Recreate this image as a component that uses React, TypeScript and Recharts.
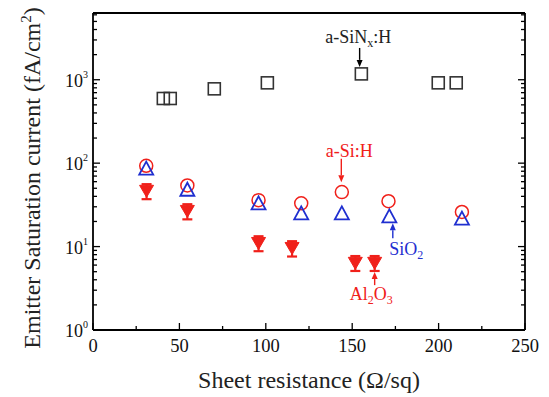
import React from 'react';
import { ScatterChart, Scatter, XAxis, YAxis, ErrorBar, ReferenceLine, ReferenceDot, Label } from 'recharts';

// a-SiNx:H (open squares)
const sinxX = [40.7, 44.7, 70.2, 100.9, 155.3, 199.8, 210.2];
const sinxY = [596, 596, 778, 918, 1175, 918, 918];
// a-Si:H (open circles)
const asiX = [30.8, 54.6, 95.8, 120.5, 144, 171, 213.5];
const asiY = [93, 54, 36, 33, 45, 35, 26];
// SiO2 (open up triangles)
const sio2X = [30.8, 54.6, 95.8, 120.5, 144, 171.5, 213.5];
const sio2Y = [86, 48, 33, 25, 25, 23, 21.6];
// Al2O3 (filled down triangles with error bars)
const alX = [31, 54.6, 95.8, 115.2, 151.8, 163];
const alY = [46, 26.4, 10.9, 9.5, 6.3, 6.3];
const alErr: [number, number][] = [[9, 10], [5.2, 5.8], [2.1, 2.4], [1.9, 2.1], [1.2, 1.4], [1.2, 1.4]];

const xTicks = [0, 25, 50, 75, 100, 125, 150, 175, 200, 225, 250];
const yTicks = [1, 2, 3, 4, 5, 6, 7, 8, 9, 10, 20, 30, 40, 50, 60, 70, 80, 90, 100, 200, 300, 400, 500, 600, 700, 800, 900, 1000, 2000, 3000, 4000, 5000, 6000];
const yMax = 6310;

const sinxData = sinxX.map((x, i) => ({ x, y: sinxY[i] }));
const asiData = asiX.map((x, i) => ({ x, y: asiY[i] }));
const sio2Data = sio2X.map((x, i) => ({ x, y: sio2Y[i] }));
const alData = alX.map((x, i) => ({ x, y: alY[i], err: alErr[i] }));

const FONT = '"Liberation Serif", "Times New Roman", serif';
const RED = '#f0201a';
const BLUE = '#1f2fd0';

const isMajorY = (v: number) => Math.abs(Math.log10(v) - Math.round(Math.log10(v))) < 1e-9;

const BottomTick = (p: any) => {
  const v = p.payload.value;
  const major = v % 50 === 0;
  return (
    <g>
      <line x1={p.x} y1={p.y} x2={p.x} y2={p.y - (major ? 7 : 4)} stroke="#000" strokeWidth={1.3} />
      {major && (
        <text x={p.x} y={p.y + 22} textAnchor="middle" style={{ fontFamily: FONT, fontSize: 18.5 }} fill="#111">{v}</text>
      )}
    </g>
  );
};
const TopTick = (p: any) => {
  const v = p.payload.value;
  const major = v % 50 === 0;
  return <line x1={p.x} y1={p.y} x2={p.x} y2={p.y + (major ? 7 : 4)} stroke="#000" strokeWidth={1.3} />;
};
const LeftTick = (p: any) => {
  const v = p.payload.value;
  const major = isMajorY(v);
  return (
    <g>
      <line x1={p.x} y1={p.y} x2={p.x + (major ? 7 : 4)} y2={p.y} stroke="#000" strokeWidth={1.3} />
      {major && (
        <text x={p.x - 5} y={p.y + 7} textAnchor="end" style={{ fontFamily: FONT, fontSize: 18 }} fill="#111">
          10<tspan dy={-9} style={{ fontSize: 10 }}>{Math.round(Math.log10(v))}</tspan>
        </text>
      )}
    </g>
  );
};
const RightTick = (p: any) => {
  const v = p.payload.value;
  const major = isMajorY(v);
  return <line x1={p.x} y1={p.y} x2={p.x - (major ? 7 : 4)} y2={p.y} stroke="#000" strokeWidth={1.3} />;
};

const Square = (p: any) => (
  <rect x={p.cx - 6} y={p.cy - 6} width={12} height={12} fill="none" stroke="#333" strokeWidth={1.6} />
);
const Circle = (p: any) => <circle cx={p.cx} cy={p.cy} r={6.5} fill="none" stroke={RED} strokeWidth={1.5} />;
const UpTri = (p: any) => (
  <polygon points={`${p.cx - 7},${p.cy + 6} ${p.cx + 7},${p.cy + 6} ${p.cx},${p.cy - 7}`} fill="none" stroke={BLUE} strokeWidth={1.8} />
);
const DownTri = (p: any) => (
  <polygon points={`${p.cx - 7},${p.cy - 6} ${p.cx + 7},${p.cy - 6} ${p.cx},${p.cy + 6}`} fill={RED} stroke={RED} strokeWidth={1} />
);

const arrowShape = (color: string) => (p: any) => {
  const { x1, y1, x2, y2 } = p;
  const ang = Math.atan2(y2 - y1, x2 - x1);
  const L = 7, W = 3;
  const bx = x2 - L * Math.cos(ang), by = y2 - L * Math.sin(ang);
  const nx = -Math.sin(ang) * W, ny = Math.cos(ang) * W;
  return (
    <g>
      <line x1={x1} y1={y1} x2={bx} y2={by} stroke={color} strokeWidth={1.4} />
      <polygon points={`${x2},${y2} ${bx + nx},${by + ny} ${bx - nx},${by - ny}`} fill={color} />
    </g>
  );
};

const textShape = (content: React.ReactNode, color: string, anchor: 'start' | 'middle' | 'end') => (p: any) => (
  <text x={p.cx} y={p.cy} textAnchor={anchor} style={{ fontFamily: FONT, fontSize: 18 }} fill={color}>{content}</text>
);

const YTitle = () => {
  const cx = 40, cy = 178;
  return (
    <text x={cx} y={cy} transform={`rotate(-90 ${cx} ${cy})`} textAnchor="middle" style={{ fontFamily: FONT, fontSize: 24 }} fill="#222">
      Emitter Saturation current (fA/cm<tspan dy={-9} style={{ fontSize: 15 }}>2</tspan><tspan dy={9}>)</tspan>
    </text>
  );
};
const XTitle = () => (
  <text x={309} y={388} textAnchor="middle" style={{ fontFamily: FONT, fontSize: 24 }} fill="#222">Sheet resistance (Ω/sq)</text>
);

export default function App() {
  return (
    <div style={{ position: 'absolute', left: 0, top: 0, background: '#fff' }}>
      <ScatterChart width={549} height={397} margin={{ top: 0, right: 0, bottom: 0, left: 0 }}>
        <XAxis dataKey="x" type="number" domain={[0, 250]} ticks={xTicks} interval={0} allowDataOverflow
          height={67} tickSize={0} tickMargin={0} tickLine={false} tick={<BottomTick />} stroke="#000" strokeWidth={1.8}>
          <Label content={<XTitle />} />
        </XAxis>
        <XAxis xAxisId="top" orientation="top" type="number" domain={[0, 250]} ticks={xTicks} interval={0} allowDataOverflow
          height={13} tickSize={0} tickMargin={0} tickLine={false} tick={<TopTick />} stroke="#000" strokeWidth={1.8} />
        <YAxis dataKey="y" type="number" scale="log" domain={[1, yMax]} ticks={yTicks} interval={0} allowDataOverflow
          width={93} tickSize={0} tickMargin={0} tickLine={false} tick={<LeftTick />} stroke="#000" strokeWidth={1.8}>
          <Label content={<YTitle />} />
        </YAxis>
        <YAxis yAxisId="right" orientation="right" type="number" scale="log" domain={[1, yMax]} ticks={yTicks} interval={0} allowDataOverflow
          width={24} tickSize={0} tickMargin={0} tickLine={false} tick={<RightTick />} stroke="#000" strokeWidth={1.8} />

        <Scatter data={sinxData} shape={<Square />} isAnimationActive={false} />
        <Scatter data={asiData} shape={<Circle />} isAnimationActive={false} />
        <Scatter data={sio2Data} shape={<UpTri />} isAnimationActive={false} />
        <Scatter data={alData} shape={<DownTri />} isAnimationActive={false}>
          <ErrorBar dataKey="err" direction="y" width={5} stroke={RED} strokeWidth={2.2} />
        </Scatter>

        <ReferenceLine segment={[{ x: 154.3, y: 2405 }, { x: 154.3, y: 1426 }]} shape={arrowShape('#000')} />
        <ReferenceDot x={153.5} y={2760} r={0} shape={textShape(<>a-SiN<tspan dy={4} style={{ fontSize: 12 }}>x</tspan><tspan dy={-4}>:H</tspan></>, '#222', 'middle')} />

        <ReferenceLine segment={[{ x: 143.7, y: 113 }, { x: 143.7, y: 59 }]} shape={arrowShape(RED)} />
        <ReferenceDot x={148.3} y={120} r={0} shape={textShape('a-Si:H', RED, 'middle')} />

        <ReferenceLine segment={[{ x: 173.5, y: 12.6 }, { x: 173.5, y: 19 }]} shape={arrowShape(BLUE)} />
        <ReferenceDot x={171.5} y={7.9} r={0} shape={textShape(<>SiO<tspan dy={4} style={{ fontSize: 12 }}>2</tspan></>, BLUE, 'start')} />

        <ReferenceLine segment={[{ x: 163, y: 3.45 }, { x: 163, y: 4.97 }]} shape={arrowShape(RED)} />
        <ReferenceDot x={161} y={2.28} r={0} shape={textShape(<>Al<tspan dy={4} style={{ fontSize: 12 }}>2</tspan><tspan dy={-4}>O</tspan><tspan dy={4} style={{ fontSize: 12 }}>3</tspan></>, RED, 'middle')} />
      </ScatterChart>
    </div>
  );
}
